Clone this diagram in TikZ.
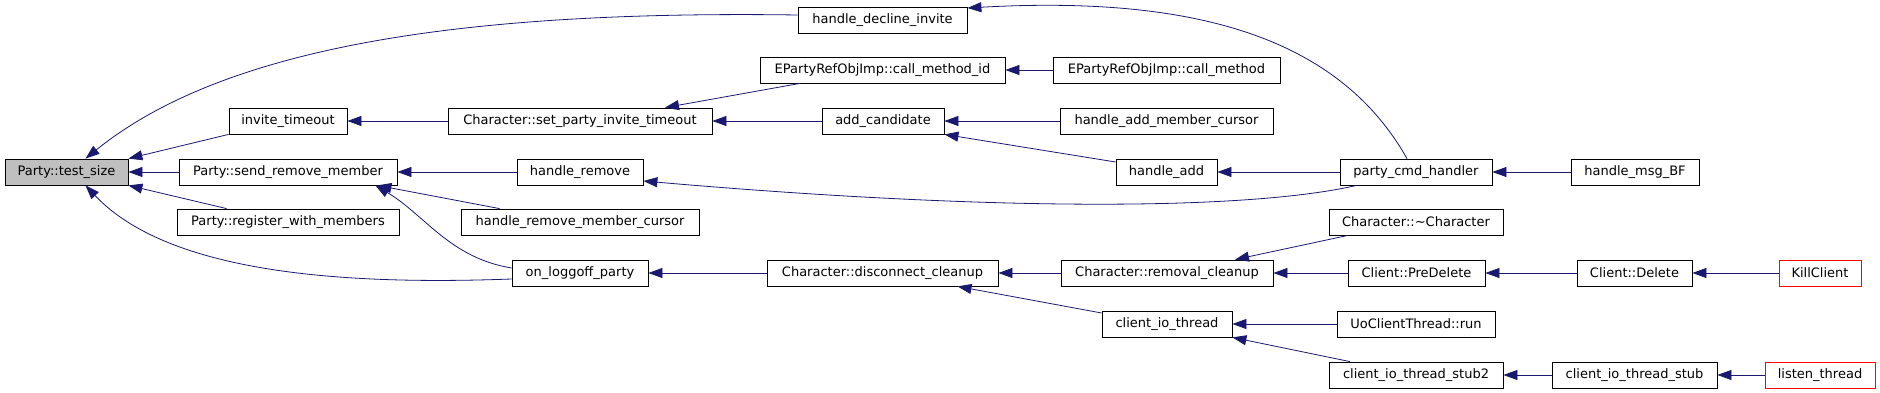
\documentclass[tikz,border=0pt]{standalone}
\usepackage{fontspec}
\setmainfont{DejaVu Sans}
\usetikzlibrary{arrows.meta}
\definecolor{edgeblue}{RGB}{25,25,112}
\definecolor{rootgray}{RGB}{191,191,191}

\begin{document}
\begin{tikzpicture}[x=1pt,y=-1pt,
        fn/.style={draw=black, line width=0.8pt, minimum height=26pt, inner xsep=1pt, inner ysep=0pt, font=\fontsize{13}{15}\selectfont},
        root/.style={fn, fill=rootgray},
        lost/.style={fn, draw=red},
        call/.style={draw=edgeblue, line width=0.8pt, -{Triangle[length=14pt,width=10pt]}}]
            \useasboundingbox (0,0) rectangle (1880,393);
            % column 1 and 2
            \node [root, minimum width=123pt] (test_size) at (66.5,172) {Party::test\_size};
            \node [fn, minimum width=118pt] (invite_timeout) at (288,121) {invite\_timeout};
            \node [fn, minimum width=218pt] (send_remove) at (288,172) {Party::send\_remove\_member};
            \node [fn, minimum width=222pt] (register) at (288,222) {Party::register\_with\_members};
            % column 3
            \node [fn, minimum width=264pt] (set_invite) at (580,121) {Character::set\_party\_invite\_timeout};
            \node [fn, minimum width=126pt] (handle_remove) at (580,172) {handle\_remove};
            \node [fn, minimum width=238pt] (remove_cursor) at (580,222) {handle\_remove\_member\_cursor};
            \node [fn, minimum width=136pt] (on_loggoff) at (580,273) {on\_loggoff\_party};
            % column 4
            \node [fn, minimum width=169pt] (decline) at (882.5,20) {handle\_decline\_invite};
            \node [fn, minimum width=245pt] (call_method_id) at (882.5,70) {EPartyRefObjImp::call\_method\_id};
            \node [fn, minimum width=122pt] (add_candidate) at (883,121) {add\_candidate};
            \node [fn, minimum width=231pt] (disconnect) at (882.5,273) {Character::disconnect\_cleanup};
            % column 5
            \node [fn, minimum width=227pt] (call_method) at (1166.5,70) {EPartyRefObjImp::call\_method};
            \node [fn, minimum width=213pt] (add_cursor) at (1166.5,121) {handle\_add\_member\_cursor};
            \node [fn, minimum width=101pt] (handle_add) at (1166.5,172) {handle\_add};
            \node [fn, minimum width=212pt] (removal) at (1167,273) {Character::removal\_cleanup};
            \node [fn, minimum width=130pt] (io_thread) at (1167,324) {client\_io\_thread};
            % column 6
            \node [fn, minimum width=152pt] (party_cmd) at (1416,172) {party\_cmd\_handler};
            \node [fn, minimum width=174pt] (destructor) at (1416,222) {Character::\textasciitilde Character};
            \node [fn, minimum width=137pt] (predelete) at (1416.5,273) {Client::PreDelete};
            \node [fn, minimum width=158pt] (uo_run) at (1416,324) {UoClientThread::run};
            \node [fn, minimum width=174pt] (stub2) at (1416,375) {client\_io\_thread\_stub2};
            % column 7 and 8
            \node [fn, minimum width=128pt] (msg_bf) at (1635,172) {handle\_msg\_BF};
            \node [fn, minimum width=115pt] (client_delete) at (1634.5,273) {Client::Delete};
            \node [fn, minimum width=165pt] (stub) at (1634.5,375) {client\_io\_thread\_stub};
            \node [lost, minimum width=82pt] (kill_client) at (1820,273) {KillClient};
            \node [lost, minimum width=110pt] (listen) at (1820,375) {listen\_thread};
            % calls into Party::test_size
            \draw [call] ([yshift=5pt]decline.west) .. controls (450,10) and (220,50) .. ([xshift=19pt]test_size.north);
            \draw [call] (invite_timeout.south west) -- (test_size.north east);
            \draw [call] (send_remove) -- (test_size);
            \draw [call] ([xshift=50pt]register.north west) -- (test_size.south east);
            \draw [call] ([yshift=-6pt]on_loggoff.west) .. controls (350,285) and (170,275) .. ([xshift=19pt]test_size.south);
            % second level
            \draw [call] (set_invite) -- (invite_timeout);
            \draw [call] (handle_remove) -- (send_remove);
            \draw [call] ([xshift=39pt]remove_cursor.north west) -- ([xshift=-20pt]send_remove.south east);
            \draw [call] ([yshift=5pt]on_loggoff.west) .. controls (450,258) and (425,215) .. ([xshift=-22pt]send_remove.south east);
            \draw [call] ([xshift=-82.5pt]call_method_id.south) -- ([xshift=85pt]set_invite.north);
            \draw [call] (add_candidate) -- (set_invite);
            \draw [call] ([xshift=17pt]party_cmd.south west) .. controls (1250,210) and (1000,212) .. ([yshift=-9pt]handle_remove.east);
            \draw [call] ([xshift=-9pt]party_cmd.north) .. controls (1340,40) and (1200,-5) .. ([yshift=12pt]decline.east);
            \draw [call] (disconnect) -- (on_loggoff);
            % further levels
            \draw [call] (call_method) -- (call_method_id);
            \draw [call] (add_cursor) -- (add_candidate);
            \draw [call] ([yshift=10pt]handle_add.west) -- (add_candidate.south east);
            \draw [call] (party_cmd) -- (handle_add);
            \draw [call] (msg_bf) -- (party_cmd);
            \draw [call] (removal) -- (disconnect);
            \draw [call] ([yshift=11pt]io_thread.west) -- ([xshift=75pt]disconnect.south);
            \draw [call] ([xshift=-68pt]destructor.south) -- ([xshift=68pt]removal.north);
            \draw [call] (predelete) -- (removal);
            \draw [call] (uo_run) -- (io_thread);
            \draw [call] ([xshift=-66pt]stub2.north) -- (io_thread.south east);
            \draw [call] (client_delete) -- (predelete);
            \draw [call] (kill_client) -- (client_delete);
            \draw [call] (stub) -- (stub2);
            \draw [call] (listen) -- (stub);
        \end{tikzpicture}
\end{document}
